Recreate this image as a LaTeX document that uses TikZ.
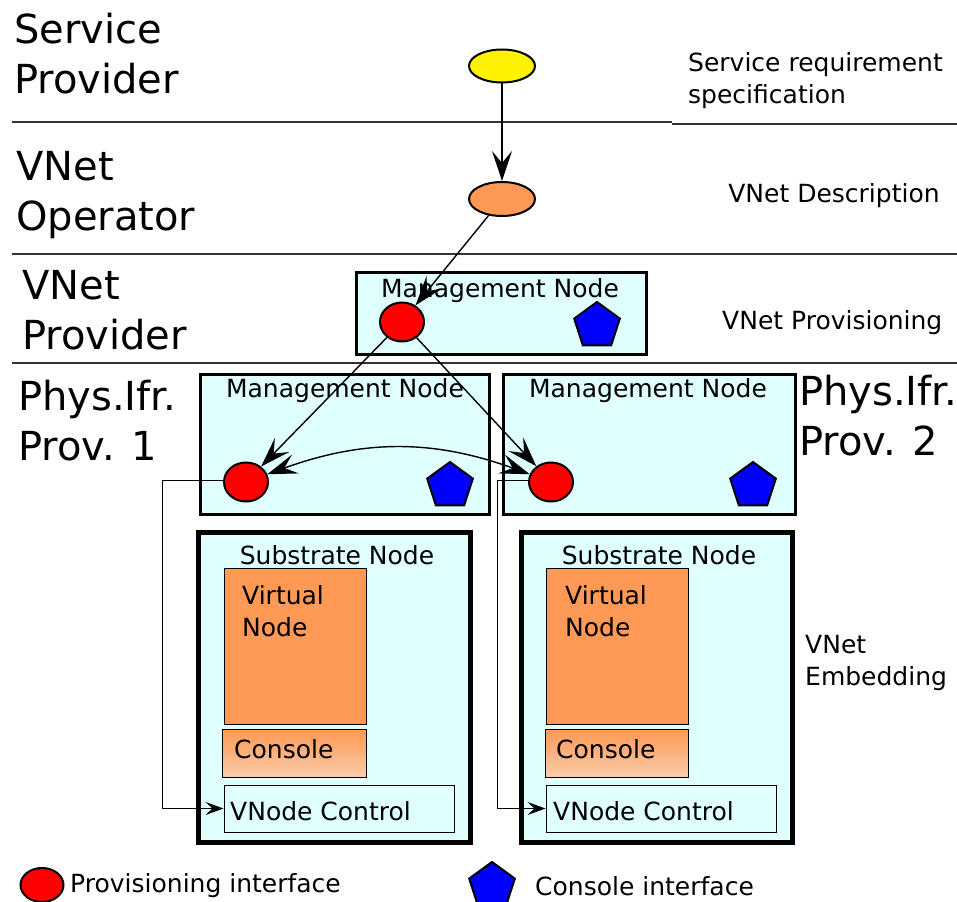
\documentclass[tikz,border=0pt]{standalone}
\usepackage{fontspec}
\setmainfont{DejaVu Sans}
\usetikzlibrary{shapes.geometric,arrows.meta}
\definecolor{boxcyan}{HTML}{E0FFFF}
\definecolor{vnorange}{HTML}{FF9955}
\definecolor{vnpeach}{HTML}{F8CCA8}
\tikzset{vtip/.tip={Stealth[length=30pt,width=20pt,inset=12pt]},
  stip/.tip={Stealth[length=18pt,width=13pt,inset=7pt]}}
\begin{document}
\begin{tikzpicture}[x=1pt,y=-1pt,
  big/.style={font=\fontsize{40}{50}\selectfont,align=left,anchor=west,inner sep=0},
  txt/.style={font=\fontsize{25}{32}\selectfont,align=left,inner sep=0},
  mgmtbox/.style={draw,line width=3pt,fill=boxcyan,inner sep=0},
  subbox/.style={draw,line width=5pt,fill=boxcyan,inner sep=0},
  vnbox/.style={draw,line width=1pt,fill=vnorange,inner sep=0},
  conbox/.style={draw,line width=1pt,top color=vnorange,middle color=vnorange,bottom color=vnpeach,inner sep=0},
  ctlbox/.style={draw,line width=1pt,fill=boxcyan,inner sep=0},
  prov/.style={ellipse,draw,line width=2pt,fill=red,minimum width=44,minimum height=39,inner sep=0},
  cons/.style={regular polygon,regular polygon sides=5,draw,line width=2pt,fill=blue,minimum size=48,inner sep=0},
  arr/.style={-vtip,line width=1.4pt},
  thin/.style={-stip,line width=1pt},
  sep/.style={line width=1.3pt,black!80}]
\useasboundingbox (0,0) rectangle (957,901);
%
\draw[sep] (12,122) -- (672,122);
\draw[sep] (672,124) -- (957,124);
\draw[sep] (12,254) -- (957,254);
\draw[sep] (12,363) -- (957,363);
%
\node(sp) at (14,54) [big] {Service\\Provider};
\node(vo) at (16,195) [big] {VNet\\Operator};
\node(vp) at (22,310) [big] {VNet\\Provider};
\node(pip1) at (18,421) [big] {Phys.Ifr.\\Prov. 1};
\node(pip2) at (799,416) [big] {Phys.Ifr.\\Prov. 2};
%
\node(srs) at (688,81) [txt,anchor=west] {Service requirement\\specification};
\node(vd) at (834,196) [txt] {VNet Description};
\node(vprov) at (722,323) [txt,anchor=west] {VNet Provisioning};
\node(ve) at (805,663) [txt,anchor=west] {VNet\\Embedding};
%
\node(req) at (502,66) [ellipse,draw,line width=2pt,fill=yellow,minimum width=66,minimum height=33,inner sep=0] {};
\node(desc) at (502,199) [ellipse,draw,line width=2pt,fill=vnorange,minimum width=66,minimum height=34,inner sep=0] {};
\draw[arr](req) -- (desc) {};
%
\node(mgv) at (501,313) [mgmtbox,minimum width=290,minimum height=82] {};
\node(mgvt) at (500,291) [txt] {Management Node};
\node(rpv) at (402,322) [prov] {};
\node(cpv) at (597,326) [cons] {};
\draw[arr](desc) -- (rpv) {};
%
\node(mg1) at (344.5,444) [mgmtbox,minimum width=289,minimum height=140] {};
\node(mg1t) at (345,391) [txt] {Management Node};
\node(rp1) at (246,482) [prov] {};
\node(cp1) at (450,486) [cons] {};
%
\node(mg2) at (649,444) [mgmtbox,minimum width=292,minimum height=140] {};
\node(mg2t) at (648,391) [txt] {Management Node};
\node(rp2) at (551,482) [prov] {};
\node(cp2) at (753,486) [cons] {};
%
\draw[arr](rpv) -- (rp1) {};
\draw[arr](rpv) -- (rp2) {};
\draw[vtip-vtip,line width=1.4pt](rp1) to[bend left=20] (rp2);
%
\node(sub1) at (334,687) [subbox,minimum width=272,minimum height=310] {};
\node(sub1t) at (337,555) [txt] {Substrate Node};
\node(vn1) at (295,646) [vnbox,minimum width=142,minimum height=156] {};
\node(vn1t) at (242,611) [txt,anchor=west] {Virtual\\Node};
\node(con1) at (294,753) [conbox,minimum width=144,minimum height=48] {};
\node(con1t) at (234,749) [txt,anchor=west] {Console};
\node(vnc1) at (339,808.5) [ctlbox,minimum width=230,minimum height=47] {};
\node(vnc1t) at (230,811) [txt,anchor=west] {VNode Control};
%
\node(sub2) at (656.5,687) [subbox,minimum width=271,minimum height=310] {};
\node(sub2t) at (659,555) [txt] {Substrate Node};
\node(vn2) at (617,646) [vnbox,minimum width=142,minimum height=156] {};
\node(vn2t) at (565,611) [txt,anchor=west] {Virtual\\Node};
\node(con2) at (616.5,753) [conbox,minimum width=143,minimum height=48] {};
\node(con2t) at (556,749) [txt,anchor=west] {Console};
\node(vnc2) at (661,808.5) [ctlbox,minimum width=230,minimum height=47] {};
\node(vnc2t) at (553,811) [txt,anchor=west] {VNode Control};
%
\coordinate(k1) at (162,480);
\coordinate(k2) at (497,480);
\draw[thin](rp1.west |- k1) -- (k1) |- (vnc1.west);
\draw[thin](rp2.west |- k2) -- (k2) |- (vnc2.west);
%
\node(lp) at (42,885) [prov,minimum width=43,minimum height=34] {};
\node(lpt) at (70,886) [txt,anchor=west] {Provisioning interface};
\node(lc) at (492,886) [cons] {};
\node(lct) at (535,886) [txt,anchor=west] {Console interface};
\end{tikzpicture}
\end{document}
